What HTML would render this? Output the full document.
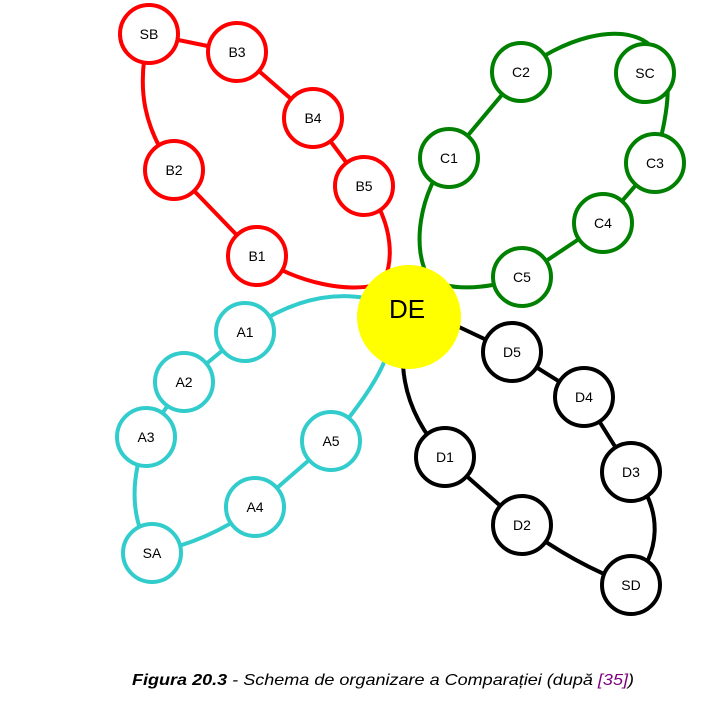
<!DOCTYPE html>
<html><head><meta charset="utf-8"><style>
body{margin:0;background:#fff}
svg{display:block}
text{font-family:"Liberation Sans",sans-serif}
</style></head><body>
<svg width="724" height="709" viewBox="0 0 724 709" xmlns="http://www.w3.org/2000/svg">
<g fill="none" stroke-width="4">
<!-- red -->
<g stroke="#ff0000">
<path d="M149 34 L237 52"/>
<path d="M237 52 L313 118 L364 186"/>
<path d="M364 186 C395 220 395 270 380 285"/>
<path d="M257 256 C300 285 350 292 375 285"/>
<path d="M257 256 L174 170"/>
<path d="M174 170 C145 130 135 90 149 34"/>
</g>
<!-- green -->
<g stroke="#008000">
<path d="M521 72 C560 40 620 20 650 45 C680 70 665 120 655 163"/>
<path d="M655 163 L603 223 L522 277"/>
<path d="M522 277 C495 287 465 290 445 285"/>
<path d="M521 72 L449 158"/>
<path d="M449 158 C420 190 410 250 430 280"/>
</g>
<!-- cyan -->
<g stroke="#33cccc">
<path d="M245 332 C290 300 330 292 365 298"/>
<path d="M245 332 L184 382 L146 437"/>
<path d="M146 437 C130 480 130 520 152 553"/>
<path d="M152 553 C190 545 225 530 255 507"/>
<path d="M255 507 L331 441"/>
<path d="M331 441 C355 410 375 385 385 360"/>
</g>
<!-- black -->
<g stroke="#000">
<path d="M440 318 L512 352 L584 397 L631 472"/>
<path d="M631 472 C665 510 660 555 631 585"/>
<path d="M631 585 C590 570 555 550 522 525"/>
<path d="M522 525 L445 457"/>
<path d="M445 457 C420 430 405 400 403 365"/>
</g>
</g>
<g stroke-width="4" fill="#fff">
<g stroke="#ff0000">
<circle cx="149" cy="34" r="29"/><circle cx="237" cy="52" r="29"/><circle cx="313" cy="118" r="29"/>
<circle cx="364" cy="186" r="29"/><circle cx="174" cy="170" r="29"/><circle cx="257" cy="256" r="29"/>
</g>
<g stroke="#008000">
<circle cx="521" cy="72" r="29"/><circle cx="645" cy="73" r="29"/><circle cx="449" cy="158" r="29"/>
<circle cx="655" cy="163" r="29"/><circle cx="603" cy="223" r="29"/><circle cx="522" cy="277" r="29"/>
</g>
<g stroke="#33cccc">
<circle cx="245" cy="332" r="29"/><circle cx="184" cy="382" r="29"/><circle cx="146" cy="437" r="29"/>
<circle cx="331" cy="441" r="29"/><circle cx="255" cy="507" r="29"/><circle cx="152" cy="553" r="29"/>
</g>
<g stroke="#000">
<circle cx="512" cy="352" r="29"/><circle cx="584" cy="397" r="29"/><circle cx="631" cy="472" r="29"/>
<circle cx="445" cy="457" r="29"/><circle cx="522" cy="525" r="29"/><circle cx="631" cy="585" r="29"/>
</g>
</g>
<circle cx="409" cy="317" r="52" fill="#ffff00"/>
<g font-size="14" text-anchor="middle" fill="#000">
<text x="149" y="39">SB</text><text x="237" y="57">B3</text><text x="313" y="123">B4</text>
<text x="364" y="191">B5</text><text x="174" y="175">B2</text><text x="257" y="261">B1</text>
<text x="521" y="77">C2</text><text x="645" y="78">SC</text><text x="449" y="163">C1</text>
<text x="655" y="168">C3</text><text x="603" y="228">C4</text><text x="522" y="282">C5</text>
<text x="245" y="337">A1</text><text x="184" y="387">A2</text><text x="146" y="442">A3</text>
<text x="331" y="446">A5</text><text x="255" y="512">A4</text><text x="152" y="558">SA</text>
<text x="512" y="357">D5</text><text x="584" y="402">D4</text><text x="631" y="477">D3</text>
<text x="445" y="462">D1</text><text x="522" y="530">D2</text><text x="631" y="590">SD</text>
<text x="407" y="318" font-size="26">DE</text>
</g>
<text x="132" y="685" font-size="16" font-style="italic" textLength="502" lengthAdjust="spacingAndGlyphs"><tspan font-weight="bold">Figura 20.3</tspan> - Schema de organizare a Comparației (după <tspan fill="#800080">[35]</tspan>)</text>
</svg>
</body></html>
